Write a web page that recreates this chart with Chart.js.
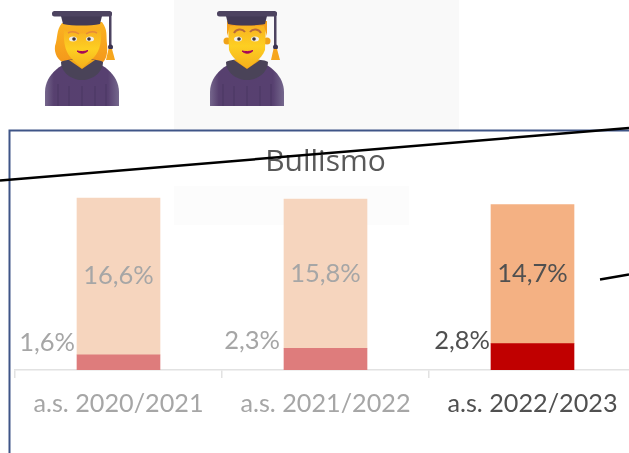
<!DOCTYPE html>
<html>
<head>
<meta charset="utf-8">
<script src="https://cdn.jsdelivr.net/npm/chart.js@4"></script>
<style>
html,body{margin:0;padding:0;background:#fff;width:629px;height:453px;overflow:hidden}
#wrap{position:relative;width:629px;height:453px;overflow:hidden}
canvas{position:absolute;left:0;top:0}
svg{position:absolute;left:0;top:0}
</style>
</head>
<body>
<div id="wrap">
<svg width="629" height="453" style="z-index:0">
  <rect x="174" y="0" width="285" height="130" fill="#f9f9f9"/>
  <rect x="174" y="186" width="235" height="39" fill="#fcfcfc"/>
  <path d="M9.5 453V130.500H629" fill="none" stroke="#3f5587" stroke-width="2"/>
</svg>
<canvas id="c" width="660" height="453" style="z-index:1"></canvas>
<svg width="629" height="453" style="z-index:2">
  <defs>
    <linearGradient id="robe" x1="0" x2="1" y1="0" y2="0">
      <stop offset="0" stop-color="#75668c"/><stop offset=".12" stop-color="#57406f"/>
      <stop offset=".85" stop-color="#574070"/><stop offset="1" stop-color="#75688d"/>
    </linearGradient>
    <linearGradient id="skin" x1="0" x2="0" y1="0" y2="1">
      <stop offset="0" stop-color="#f8b020"/><stop offset=".5" stop-color="#fdcf22"/><stop offset="1" stop-color="#f5b01c"/>
    </linearGradient>
    <linearGradient id="hair" x1="0" x2="0" y1="0" y2="1">
      <stop offset="0" stop-color="#fbb321"/><stop offset="1" stop-color="#f4981b"/>
    </linearGradient>
    <g id="body">
      <path d="M45 106V92C45 75 62 60 82 60S119 75 119 92V106Z" fill="url(#robe)"/>
      <path d="M58 106V84M69 106V86M82 106V86M95 106V86M106 106V84" stroke="#4b3763" stroke-width="1" fill="none"/>
      <path d="M61 62C66 58 98 58 103 62C103 72 93 80 82 80S61 72 61 62Z" fill="#4a4358"/>
      <path d="M82 69L69 60H95Z" fill="#f1a51a"/>
    </g>
    <g id="cap">
      <path d="M61 16H102L100 24C90 26 73 26 63 24Z" fill="#433a55"/>
      <rect x="52" y="11" width="60" height="5.500" rx="2.500" fill="#4d4360"/>
      <rect x="109" y="12" width="2.500" height="35" fill="#4d4360"/>
      <circle cx="110.500" cy="47" r="2.500" fill="#3c3350"/>
      <path d="M108.500 49H112L115 60H106Z" fill="#f6a61d"/>
    </g>
    <g id="eyes">
      <ellipse cx="73" cy="39" rx="4" ry="2.500" fill="#f3efe8"/>
      <ellipse cx="90" cy="39" rx="4" ry="2.500" fill="#f3efe8"/>
      <circle cx="74" cy="39" r="1.800" fill="#3e3338"/>
      <circle cx="89" cy="39" r="1.800" fill="#3e3338"/>
      <path d="M77 51C80 54 85 54 88 50.500C84 51.800 81 51.800 77 51Z" fill="#a5045a" stroke="#a5045a" stroke-width="1"/>
    </g>
  </defs>
  <!-- woman -->
  <g>
    <path d="M62 23C56 30 58 38 55 46C54 54 58 60 64 63H102C106 60 108 54 107 44C106 36 108 30 102 22Z" fill="url(#hair)"/>
    <use href="#body"/>
    <path d="M64 30C75 36 90 33 101 30C102 44 99 54 91 60L82 68L73 60C66 54 63 44 64 30Z" fill="url(#skin)"/>
    <path d="M68 33C72 31 76 32 79 34M86 34C89 32 93 31 97 33" stroke="#e58a3a" stroke-width="1.500" fill="none"/>
    <use href="#eyes"/>
    <use href="#cap"/>
  </g>
  <!-- man -->
  <g transform="translate(165 0)">
    <use href="#body"/>
    <circle cx="62" cy="41" r="3.500" fill="#f0a319"/>
    <circle cx="102" cy="41" r="3.500" fill="#f0a319"/>
    <path d="M63 24H101L100 50C98 56 92 62 82 68C72 62 66 56 64 50Z" fill="url(#skin)"/>
    <path d="M62 21H102L102 36L99 26H65L62 36Z" fill="#f5a01c"/>
    <path d="M69 33C71 29 77 28 80 32M85 32C88 28 94 29 96 33" stroke="#b96a3a" stroke-width="2" fill="none"/>
    <use href="#eyes"/>
    <use href="#cap"/>
  </g>
  <path d="M0 180.500L629 128" stroke="#000" stroke-width="2.500" fill="none"/>
  <path d="M600 279.500L629 274.500" stroke="#000" stroke-width="2.500" fill="none"/>
</svg>
</div>
<script>
const categories = ['a.s. 2020/2021', 'a.s. 2021/2022', 'a.s. 2022/2023'];
const lowValues = [1.6, 2.3, 2.8];
const highValues = [16.6, 15.8, 14.7];
const lowColors = ['#de7c7c', '#de7c7c', '#c00000'];
const highColors = ['#f6d5be', '#f6d5be', '#f4b183'];
const textColors = ['#a6a6a6', '#a6a6a6', '#505050'];
const titleText = 'Bullismo';
const fontFamily = 'Lato, sans-serif';

const lowLabelLift = [27, 29, 29];
const lowLabelGap = [2, 4, 1];
const highLabelY = [275.5, 274, 273.5];

const labelPlugin = {
  id: 'valueLabels',
  afterDatasetsDraw(chart) {
    const ctx = chart.ctx;
    ctx.save();
    ctx.font = '400 25.5px ' + fontFamily;
    ctx.textBaseline = 'middle';
    const fmt = v => v.toFixed(1).replace('.', ',') + '%';
    chart.getDatasetMeta(0).data.forEach((bar, i) => {
      ctx.fillStyle = textColors[i];
      ctx.textAlign = 'right';
      ctx.fillText(fmt(lowValues[i]), bar.x - bar.width / 2 - lowLabelGap[i], chart.chartArea.bottom - lowLabelLift[i]);
    });
    chart.getDatasetMeta(1).data.forEach((bar, i) => {
      ctx.fillStyle = textColors[i];
      ctx.textAlign = 'center';
      ctx.fillText(fmt(highValues[i]), bar.x, highLabelY[i]);
    });
    ctx.restore();
  }
};

new Chart(document.getElementById('c'), {
  type: 'bar',
  data: {
    labels: categories,
    datasets: [
      { data: lowValues, backgroundColor: lowColors, stack: 's', barThickness: 83 },
      { data: highValues, backgroundColor: highColors, stack: 's', barThickness: 83 }
    ]
  },
  plugins: [labelPlugin],
  options: {
    responsive: false,
    animation: false,
    layout: { padding: { left: 15, right: 24, top: 144, bottom: 0 } },
    plugins: {
      legend: { display: false },
      tooltip: { enabled: false },
      title: {
        display: true, text: titleText, color: '#595959',
        font: { family: 'Open Sans', size: 30, weight: '400', lineHeight: 1.2 },
        padding: { top: 0, bottom: 2 }
      }
    },
    scales: {
      x: {
        stacked: true,
        afterFit(s) { s.height = 83; },
        grid: { drawOnChartArea: false, drawTicks: true, tickLength: 8, color: '#e2e2e2', lineWidth: 1.5 },
        border: { color: '#e2e2e2', width: 1.5 },
        ticks: {
          color: c => textColors[c.index],
          font: { family: 'Lato', size: 25.2, weight: '400' },
          padding: 11, maxRotation: 0, autoSkip: false
        }
      },
      y: { stacked: true, display: false, min: 0, max: 19.9 }
    }
  }
});
</script>
</body>
</html>
